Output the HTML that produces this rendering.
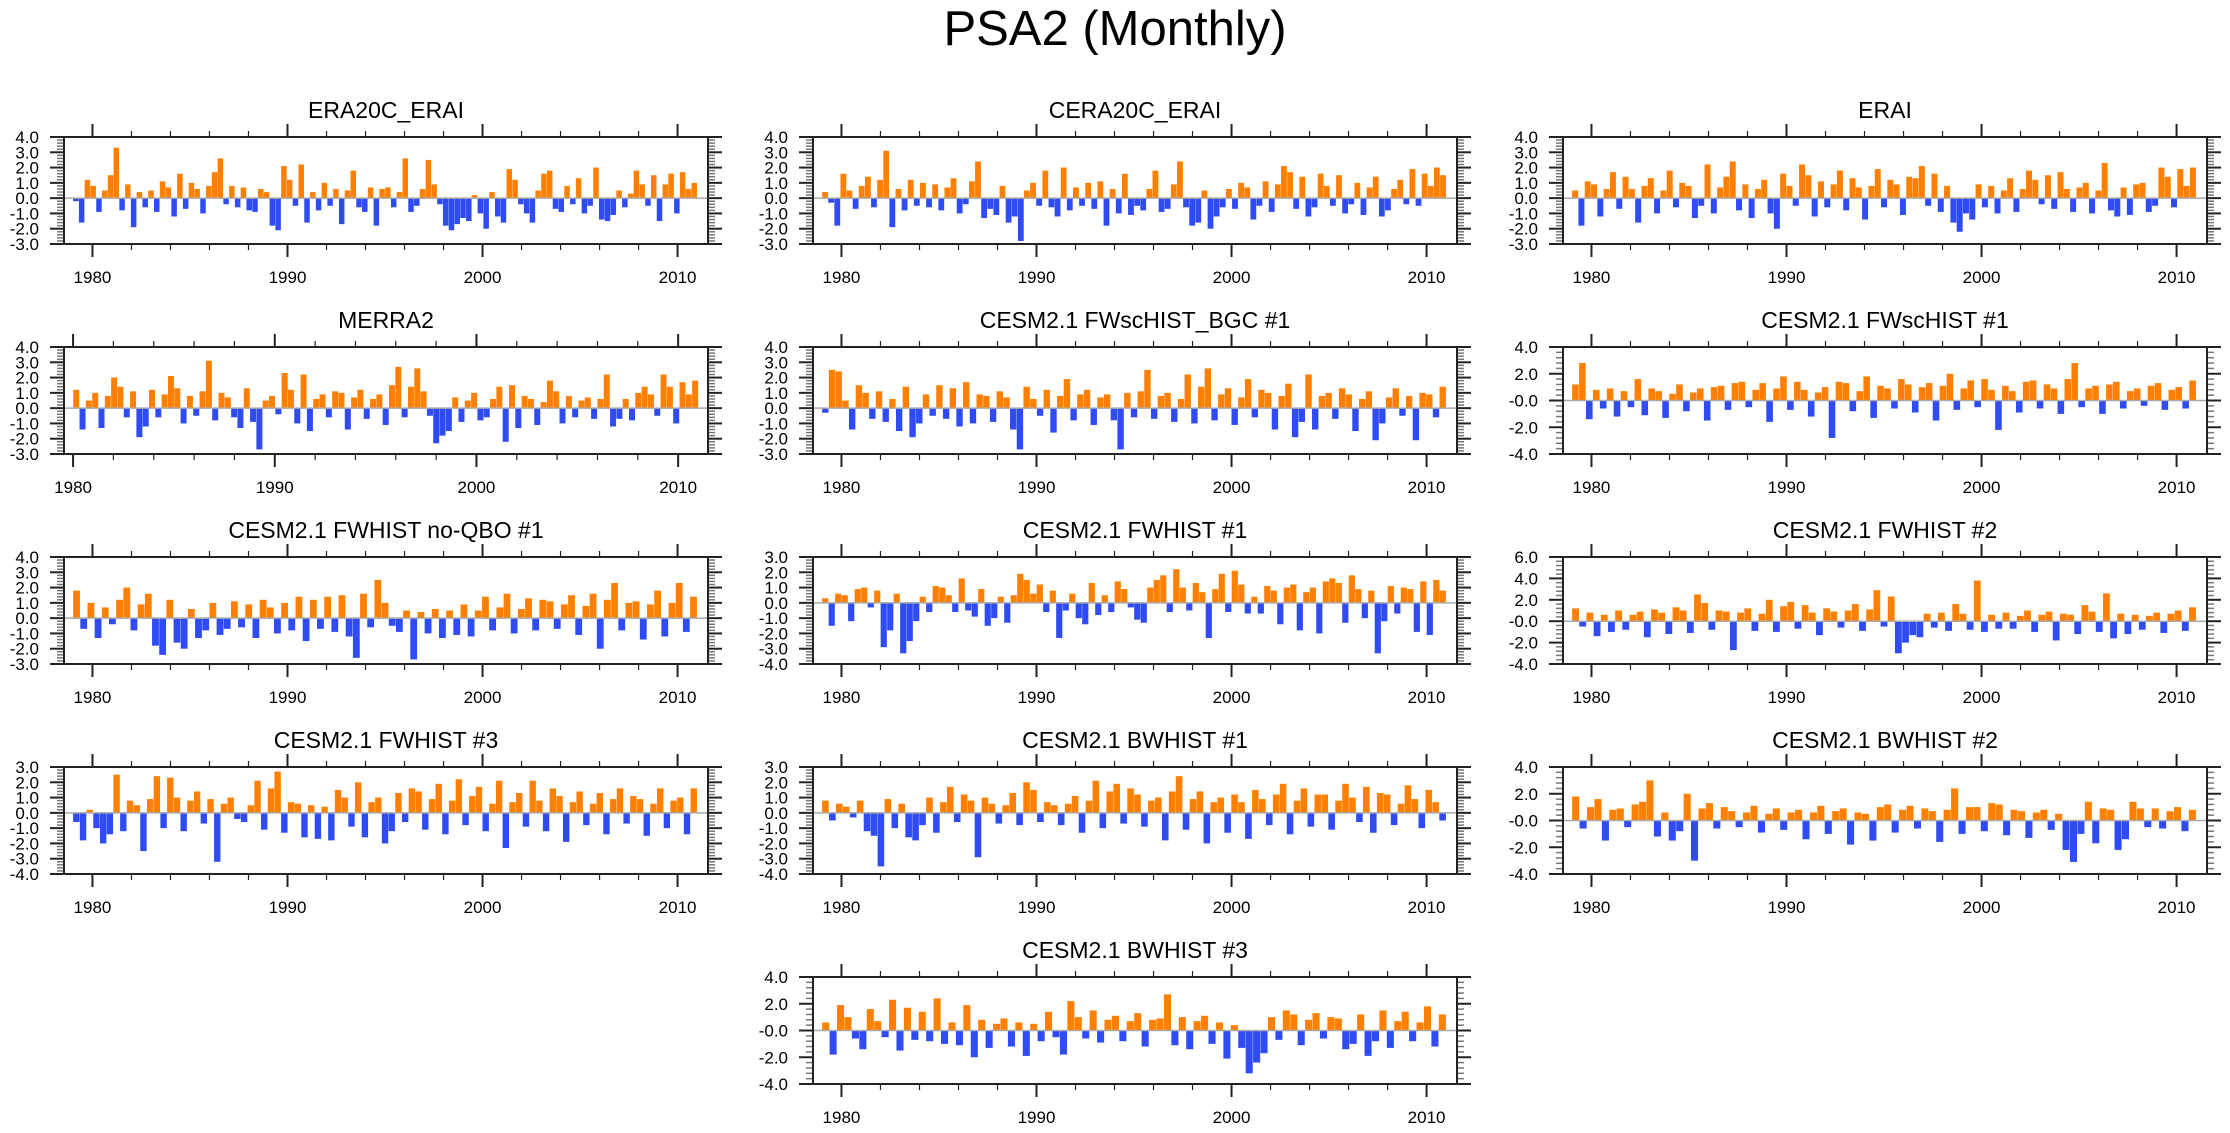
<!DOCTYPE html>
<html><head><meta charset="utf-8"><title>PSA2 (Monthly)</title>
<style>
html,body{margin:0;padding:0;background:#fff;}
svg{display:block;font-family:"Liberation Sans",Arial,sans-serif;}
</style></head>
<body>
<svg id="chart" width="2230" height="1133" viewBox="0 0 2230 1133" xmlns="http://www.w3.org/2000/svg">
<rect width="2230" height="1133" fill="#fff"/>
<text x="1115" y="45" font-size="49" text-anchor="middle" fill="#000">PSA2 (Monthly)</text>
</svg>
<script>
const panelTitles = ["ERA20C_ERAI","CERA20C_ERAI","ERAI","MERRA2","CESM2.1 FWscHIST_BGC #1","CESM2.1 FWscHIST #1","CESM2.1 FWHIST no-QBO #1","CESM2.1 FWHIST #1","CESM2.1 FWHIST #2","CESM2.1 FWHIST #3","CESM2.1 BWHIST #1","CESM2.1 BWHIST #2","CESM2.1 BWHIST #3"];
const yMins = [-3,-3,-3,-3,-3,-4,-3,-4,-4,-4,-4,-4,-4];
const yMaxs = [4,4,4,4,4,4,4,3,6,3,3,4,4];
const ySteps = [1,1,1,1,1,2,1,1,2,1,1,2,2];
const dataStart = [1979,1979,1979,1980,1979,1979,1979,1979,1979,1979,1979,1979,1979];
const dataEnd = [2011,2011,2011,2011,2011,2011,2011,2011,2011,2011,2011,2011,2011];
const xTickYears = [1980,1990,2000,2010];

const s0 = [-0.2,-1.6,1.2,0.8,-0.9,0.5,1.5,3.3,-0.8,0.9,-1.9,0.4,-0.6,0.5,-0.9,1.1,0.7,-1.2,1.6,-0.7,1.0,0.6,-1.0,0.8,1.7,2.6,-0.4,0.8,-0.6,0.7,-0.8,-0.9,0.6,0.4,-1.8,-2.1,2.1,1.2,-0.5,2.2,-1.6,0.4,-0.8,1.0,-0.5,0.6,-1.7,0.5,1.8,-0.6,-0.9,0.7,-1.8,0.6,0.7,-0.6,0.4,2.6,-0.9,-0.5,0.6,2.5,0.9,-0.4,-1.8,-2.1,-1.7,-1.3,-1.5,0.2,-1.0,-2.0,0.4,-1.2,-1.6,1.9,1.2,-0.4,-1.0,-1.6,0.5,1.6,1.8,-0.7,-0.9,0.8,-0.4,1.3,-1.0,-0.5,2.0,-1.4,-1.5,-1.1,0.5,-0.6,0.3,1.8,0.9,-0.5,1.5,-1.5,0.9,1.6,-1.0,1.7,0.6,1.0];
const s1 = [0.4,-0.3,-1.8,1.6,0.5,-0.7,0.8,1.4,-0.6,1.2,3.1,-1.9,0.6,-0.8,1.2,-0.5,1.0,-0.6,0.9,-0.8,0.7,1.3,-1.0,-0.4,1.1,2.4,-1.3,-0.7,-1.1,0.8,-1.6,-1.2,-2.8,0.5,1.0,-0.5,1.8,-0.6,-1.2,2.0,-0.8,0.7,-0.5,1.0,-0.7,1.1,-1.8,0.6,-1.0,1.6,-1.1,-0.5,-0.8,0.6,1.8,-0.9,-0.7,0.9,2.4,-0.6,-1.8,-1.6,0.5,-2.0,-1.2,-0.6,0.6,-0.7,1.0,0.7,-1.4,-0.5,1.1,-0.9,0.9,2.1,1.7,-0.7,1.4,-1.2,-0.6,1.6,0.8,-0.5,1.5,-1.0,-0.4,1.0,-1.1,0.7,1.4,-1.2,-0.8,0.6,1.2,-0.4,1.9,-0.5,1.6,0.8,2.0,1.5];
const s2 = [0.5,-1.8,1.1,0.9,-1.2,0.6,1.7,-0.7,1.4,0.6,-1.6,0.8,1.3,-1.0,0.5,1.8,-0.6,1.0,0.8,-1.3,-0.5,2.2,-1.0,0.7,1.4,2.4,-0.8,0.9,-1.3,0.6,1.2,-1.0,-2.0,1.6,0.8,-0.5,2.2,1.5,-1.2,1.1,-0.6,0.9,1.8,-0.8,1.3,0.7,-1.4,0.8,1.9,-0.6,1.2,0.9,-1.1,1.4,1.3,2.1,-0.5,1.6,-0.9,0.8,-1.6,-2.2,-1.0,-1.4,0.9,-0.6,0.8,-1.0,0.5,1.3,-0.9,0.6,1.8,1.2,-0.4,1.5,-0.7,1.7,0.6,-0.9,0.7,1.0,-1.0,0.5,2.3,-0.8,-1.2,0.7,-1.1,0.9,1.0,-0.9,-0.5,2.0,1.4,-0.6,1.9,0.8,2.0];
const s3 = [1.2,-1.4,0.5,1.0,-1.3,0.8,2.0,1.4,-0.6,1.1,-1.9,-1.2,1.2,-0.6,0.9,2.1,1.3,-1.0,0.8,-0.5,1.1,3.1,-0.8,1.0,0.7,-0.6,-1.3,1.3,-0.9,-2.7,0.5,0.8,-0.4,2.3,1.2,-1.0,2.2,-1.5,0.6,0.9,-0.6,1.1,1.0,-1.4,0.7,1.2,-0.7,0.6,0.9,-1.1,1.5,2.7,-0.6,1.4,2.6,1.1,-0.5,-2.3,-1.8,-1.5,0.7,-0.9,0.5,1.0,-0.8,-0.6,0.6,1.4,-2.2,1.5,-1.3,0.8,0.6,-1.1,0.4,1.8,1.1,-1.0,0.8,-0.6,0.5,0.7,-0.7,0.6,2.2,-1.2,-0.7,0.6,-0.8,1.0,1.4,0.9,-0.5,2.2,1.4,-1.0,1.7,0.9,1.8];
const s4 = [-0.3,2.5,2.4,0.5,-1.4,1.5,1.0,-0.7,1.1,-0.9,0.6,-1.5,1.4,-1.9,-1.0,0.9,-0.5,1.5,-0.7,1.3,-1.2,1.7,-1.0,0.9,0.8,-0.9,1.1,0.7,-1.4,-2.7,1.4,0.6,-0.5,1.2,-1.6,0.8,1.9,-0.8,0.9,1.2,-1.1,0.7,0.9,-0.8,-2.7,1.0,-0.6,1.1,2.5,-0.7,0.8,1.0,-0.9,0.6,2.2,-1.0,1.4,2.6,-0.8,0.9,1.3,-1.1,0.7,1.9,-0.6,1.2,1.0,-1.4,0.8,1.6,-1.9,-0.9,2.2,-1.4,0.8,1.0,-0.7,1.3,0.9,-1.5,0.6,1.1,-2.1,-1.0,0.7,1.3,-0.5,0.8,-2.1,1.0,0.9,-0.6,1.4];
const s5 = [1.2,2.8,-1.4,0.8,-0.6,0.9,-1.2,0.7,-0.5,1.6,-1.1,0.9,0.7,-1.3,0.5,1.2,-0.8,0.6,0.9,-1.5,1.0,1.1,-0.7,1.3,1.4,-0.5,0.8,1.3,-1.6,0.9,1.8,-0.7,1.4,0.8,-1.2,0.6,1.0,-2.8,1.4,1.3,-0.8,0.7,1.8,-1.3,1.1,0.9,-0.6,1.6,1.2,-0.9,1.0,1.3,-1.5,1.1,2.0,-0.7,0.9,1.5,-0.5,1.6,0.8,-2.2,1.1,0.7,-0.9,1.4,1.5,-0.6,1.2,0.9,-1.0,1.6,2.8,-0.5,0.9,1.1,-1.0,1.2,1.4,-0.6,0.7,0.9,-0.4,1.1,1.3,-0.7,0.8,1.0,-0.6,1.5];
const s6 = [1.8,-0.7,1.0,-1.3,0.7,-0.4,1.2,2.0,-0.8,0.9,1.6,-1.8,-2.4,1.2,-1.6,-2.0,0.6,-1.3,-0.8,1.0,-1.1,-0.7,1.1,-0.6,0.9,-1.3,1.2,0.7,-1.0,1.0,-0.8,1.4,-1.5,1.2,-0.7,1.4,-0.9,1.5,-1.2,-2.6,1.6,-0.6,2.5,1.0,-0.5,-0.9,0.5,-2.7,0.4,-1.0,0.6,-1.3,0.5,-1.1,0.9,-1.2,0.5,1.4,-0.8,0.7,1.6,-1.0,0.6,1.3,-0.8,1.2,1.1,-0.7,0.9,1.5,-1.1,0.8,1.6,-2.0,1.2,2.3,-0.8,1.0,1.1,-1.4,0.9,1.8,-1.2,1.0,2.3,-0.9,1.4];
const s7 = [0.3,-1.5,0.6,0.5,-1.2,0.9,1.0,-0.3,0.8,-2.9,-1.8,0.6,-3.3,-2.5,-1.2,0.4,-0.6,1.1,1.0,0.5,-0.6,1.6,-0.5,-0.9,0.9,-1.5,-1.0,0.4,-1.3,0.5,1.9,1.5,0.6,1.2,-0.6,0.8,-2.3,-0.5,0.6,-1.0,-1.4,1.3,-0.8,0.5,-0.6,1.4,0.9,-0.3,-1.1,-1.3,1.0,1.5,1.8,-0.6,2.2,1.0,-0.5,1.3,0.7,-2.3,0.9,1.9,-0.6,2.1,1.2,-0.7,0.4,-0.7,1.1,0.8,-1.4,1.0,1.2,-1.8,0.7,1.0,-2.0,1.4,1.6,1.3,-1.3,1.8,0.9,-1.0,0.8,-3.3,-1.2,1.1,-0.7,1.0,0.9,-1.9,1.4,-2.1,1.5,0.8];
const s8 = [1.2,-0.5,0.8,-1.4,0.6,-1.0,1.0,-0.8,0.6,0.9,-1.5,1.1,0.8,-1.2,1.3,1.0,-1.1,2.5,1.7,-0.8,1.0,0.9,-2.7,0.8,1.2,-0.9,0.7,2.0,-1.0,1.4,1.8,-0.7,1.5,0.8,-1.3,1.2,0.9,-0.6,1.0,1.6,-0.9,1.1,2.9,-0.5,2.3,-3.0,-2.0,-1.3,-1.5,0.7,-0.6,0.8,-0.9,1.6,0.7,-0.8,3.8,-1.0,0.6,-0.7,0.8,-0.7,0.5,1.0,-1.0,0.6,0.9,-1.8,0.7,0.6,-1.2,1.5,0.9,-1.0,2.6,-1.6,0.7,-1.2,0.6,-0.8,0.5,0.8,-1.1,0.7,1.0,-0.9,1.3];
const s9 = [-0.6,-1.8,0.2,-1.0,-2.0,-1.4,2.5,-1.2,0.8,0.5,-2.5,0.9,2.4,-1.0,2.3,1.0,-1.2,0.8,1.4,-0.7,0.9,-3.2,0.6,1.0,-0.4,-0.6,0.5,2.1,-1.1,1.6,2.7,-1.3,0.7,0.6,-1.6,0.5,-1.7,0.4,-1.8,1.5,1.0,-0.9,2.0,-1.6,0.7,1.0,-2.0,-1.2,1.3,-0.6,1.6,1.4,-1.1,0.9,1.9,-1.4,0.8,2.2,-0.8,1.1,1.7,-1.2,0.6,2.1,-2.3,0.7,1.3,-0.9,2.1,0.8,-1.2,1.6,1.1,-1.9,0.7,1.4,-0.8,0.6,1.3,-1.4,0.9,1.6,-0.7,1.1,0.9,-1.5,0.6,1.6,-1.0,0.8,1.0,-1.4,1.6];
const s10 = [0.8,-0.5,0.6,0.4,-0.3,0.8,-1.2,-1.5,-3.5,0.9,-1.0,0.6,-1.6,-1.8,-0.8,1.0,-1.3,0.7,1.7,-0.6,1.2,0.8,-2.9,1.0,0.6,-0.7,0.5,1.3,-0.8,2.0,1.5,-0.6,0.7,0.5,-0.8,0.6,1.1,-1.3,0.8,2.1,-1.0,1.4,1.9,-0.7,1.6,1.2,-0.9,0.8,1.0,-1.8,1.4,2.4,-1.1,0.9,1.4,-2.0,0.7,1.0,-1.3,1.2,0.7,-1.7,1.5,0.9,-0.8,1.2,1.9,-1.4,0.8,1.6,-0.9,1.2,1.2,-1.1,0.8,1.9,1.0,-0.6,1.7,-1.3,1.3,1.2,-0.8,0.6,1.8,0.9,-1.0,1.5,0.7,-0.5];
const s11 = [1.8,-0.6,1.0,1.6,-1.5,0.8,0.9,-0.5,1.2,1.4,3.0,-1.2,0.6,-1.5,-0.8,2.0,-3.0,0.9,1.3,-0.6,1.0,0.7,-0.5,0.6,1.1,-0.9,0.5,0.9,-0.7,0.6,0.8,-1.4,0.6,1.1,-1.0,0.7,0.9,-1.8,0.6,0.5,-1.5,1.0,1.2,-0.9,0.8,1.1,-0.6,0.9,0.7,-1.6,0.8,2.4,-1.0,1.0,1.0,-0.8,1.3,1.2,-1.1,0.8,0.7,-1.3,0.6,0.8,-0.7,0.5,-2.2,-3.1,-1.0,1.4,-1.7,0.9,0.8,-2.2,-1.4,1.4,0.9,-0.5,0.9,-0.6,0.7,1.0,-0.8,0.8];
const s12 = [0.6,-1.8,1.9,1.0,-0.6,-1.4,1.6,0.7,-0.5,2.3,-1.5,1.7,-0.7,1.4,-0.8,2.4,-1.0,0.6,-1.1,1.9,-2.0,0.8,-1.3,0.5,0.9,-1.2,0.6,-1.9,0.5,-0.8,1.4,-0.5,-1.8,2.2,1.0,-0.6,1.5,-0.9,0.8,1.1,-0.8,0.7,1.3,-1.2,0.8,0.9,2.7,-1.1,1.0,-1.4,0.7,1.1,-1.0,0.6,-2.1,0.4,-1.3,-3.2,-2.4,-1.7,1.0,-0.7,1.5,1.2,-1.1,0.8,1.3,-0.6,1.0,0.9,-1.4,-1.0,1.2,-1.9,-0.8,1.5,-1.3,0.7,1.4,-0.8,0.6,1.8,-1.2,1.2];
const series = [s0,s1,s2,s3,s4,s5,s6,s7,s8,s9,s10,s11,s12];

const NS = "http://www.w3.org/2000/svg";
const svg = document.getElementById("chart");
const colLeft = [64, 813, 1563];
const rowTop = [137, 347, 557, 767, 977];
const W = 644, H = 107;
const slots = [[0,0],[0,1],[0,2],[1,0],[1,1],[1,2],[2,0],[2,1],[2,2],[3,0],[3,1],[3,2],[4,1]];

function mk(tag, attrs, parent) {
  const e = document.createElementNS(NS, tag);
  for (const k in attrs) e.setAttribute(k, attrs[k]);
  (parent || svg).appendChild(e);
  return e;
}
function slug(s){return s.toLowerCase().replace(/[^a-z0-9]+/g,'-').replace(/^-|-$/g,'');}

series.forEach((vals, p) => {
  const [r, c] = slots[p];
  const L = colLeft[c], T = rowTop[r];
  const isMerra = dataStart[p] === 1980;
  const x0 = isMerra ? 1979.55 : 1978.54, x1 = isMerra ? 2011.48 : 2011.56;
  const xs = y => L + (y - x0) / (x1 - x0) * W;
  const ys = v => T + (yMaxs[p] - v) / (yMaxs[p] - yMins[p]) * H;
  const g = mk("g", {});
  
  

  const title = mk("text", {x: L + W/2, y: T - 19, "font-size": 23, "text-anchor": "middle", fill: "#000"}, g);
  
  
  title.textContent = panelTitles[p];

  const n = vals.length;
  const step = (dataEnd[p] - dataStart[p]) / n;
  const bw = Math.max(1.2, (xs(dataStart[p] + step) - xs(dataStart[p])) * 0.95);
  const zy = ys(0);
  vals.forEach((v, i) => {
    const bx = xs(dataStart[p] + (i + 0.5) * step) - bw / 2;
    const vy = ys(v);
    const b = mk("rect", {x: bx.toFixed(2), y: Math.min(vy, zy).toFixed(2), width: bw.toFixed(2), height: Math.abs(vy - zy).toFixed(2), fill: v >= 0 ? "#ff8000" : "#2f4bf5"}, g);
    
    
  });
  const zl = mk("line", {x1: L, x2: L + W, y1: zy, y2: zy, stroke: "#aaa", "stroke-width": 1.5}, g);
  
  

  const yStep = ySteps[p];
  for (let v = yMins[p]; v <= yMaxs[p] + 1e-9; v += yStep / 5) {
    const y = ys(v);
    const major = Math.abs(Math.round(v / yStep) * yStep - v) < 1e-6;
    const len = major ? 14 : 7;
    const col = major ? "#222" : "#777";
    mk("line", {x1: L - len, x2: L, y1: y, y2: y, stroke: col, "stroke-width": major ? 2 : 1.5}, g);
    mk("line", {x1: L + W, x2: L + W + len, y1: y, y2: y, stroke: col, "stroke-width": major ? 2 : 1.5}, g);
    if (major) {
      const t = mk("text", {x: L - 25, y: y + 6, "font-size": 17, "text-anchor": "end", fill: "#000"}, g);
      
      
      t.textContent = v.toFixed(1);
    }
  }
  for (let yr = 1978; yr <= 2012; yr += 2) {
    const x = xs(yr);
    if (x < L || x > L + W) continue;
    const major = xTickYears.includes(yr);
    const len = major ? 13 : 6;
    mk("line", {x1: x, x2: x, y1: T + H, y2: T + H + len, stroke: "#222", "stroke-width": major ? 2 : 1.2}, g);
    mk("line", {x1: x, x2: x, y1: T - len, y2: T, stroke: "#222", "stroke-width": major ? 2 : 1.2}, g);
  }
  xTickYears.forEach(yr => {
    const t = mk("text", {x: xs(yr), y: T + 146, "font-size": 17, "text-anchor": "middle", fill: "#000"}, g);
    
    
    t.textContent = yr;
  });
  const box = mk("rect", {x: L, y: T, width: W, height: H, fill: "none", stroke: "#222", "stroke-width": 2}, g);
  
  
});
</script>
</body></html>
